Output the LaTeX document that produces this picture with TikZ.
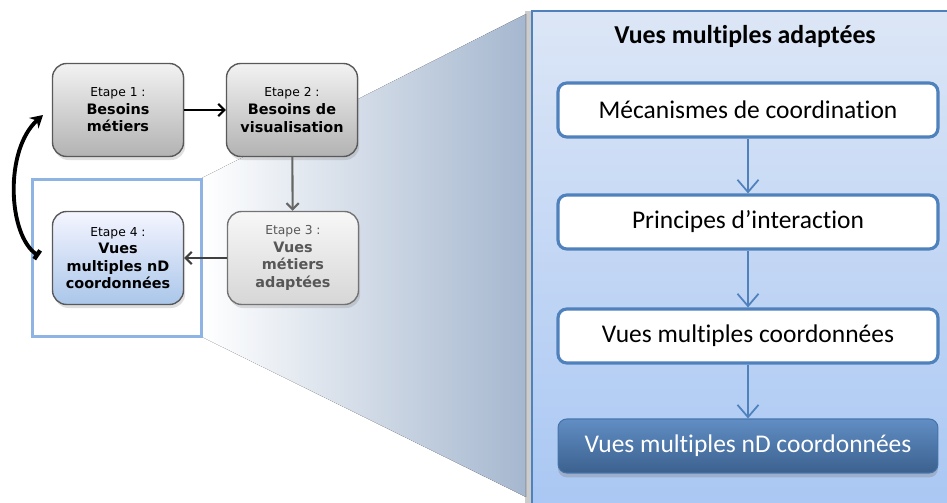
\documentclass[tikz,border=0pt]{standalone}
\usepackage{fontspec}
\setmainfont{Carlito}[Ligatures=NoCommon]
\newfontfamily\etapefont{DejaVu Sans}
\usepackage{xcolor}
\usepackage{tikz}
\usetikzlibrary{arrows.meta,positioning,shadows,calc}

\definecolor{panelblue}{HTML}{4F81BD}
\definecolor{framblue}{HTML}{8EB4E3}
\definecolor{greytext}{HTML}{575757}

\newcommand\etapenum[1]{{\mdseries\fontsize{7}{8}\selectfont Etape #1 :}}

\tikzset{
  etape/.style={draw=black!65, line width=0.8pt, rounded corners=8pt,
    minimum width=2.62cm, minimum height=1.86cm, align=center, inner sep=2pt,
    font=\etapefont\fontsize{8.2}{10}\selectfont\bfseries,
    drop shadow={opacity=0.25, shadow xshift=1pt, shadow yshift=-2pt}},
  etapegrey/.style={etape, top color=black!5, bottom color=black!30},
  etapepale/.style={etape, draw=black!55, top color=black!3, bottom color=black!16, text=greytext},
  etapeblue/.style={etape, top color=blue!4, bottom color=framblue!75},
  stepbox/.style={draw=panelblue, line width=1.8pt, rounded corners=5pt, fill=white,
    minimum width=7.6cm, minimum height=1.08cm, font=\fontsize{14.5}{17}\selectfont},
  stepdark/.style={stepbox, draw=panelblue!90!black, line width=0.6pt,
    top color=panelblue!90!white, bottom color=panelblue!75!black, text=white,
    drop shadow={opacity=0.35, shadow xshift=0pt, shadow yshift=-2.5pt}},
  flow/.style={panelblue, line width=1pt, -{Straight Barb[length=7pt,width=12pt]}},
  next/.style={line width=1.2pt, -{Straight Barb[length=3.5pt,width=7pt]}},
}

\begin{document}
\begin{tikzpicture}[x=0.02cm, y=-0.02cm]
  \useasboundingbox (0,0) rectangle (947,503);

  % zoom wedge towards the panel
  \fill[left color=white, right color={rgb,255:red,165;green,183;blue,207}]
    (202,178) -- (526,14) -- (526,497) -- (202,337) -- cycle;

  % the panel
  \node[draw=panelblue, line width=1.2pt, top color={rgb,255:red,220;green,230;blue,246},
    bottom color={rgb,255:red,169;green,199;blue,243}, minimum width=8.32cm,
    minimum height=10cm, anchor=north west,
    drop shadow={opacity=0.4, shadow xshift=-4pt, shadow yshift=0pt}]
    (panel) at (531,10) {};
  \node[font=\fontsize{14.7}{18}\selectfont\bfseries] (title) at (745,36) {Vues multiples adaptées};

  \node[stepbox] (meca) at (748,110) {Mécanismes de coordination};
  \node[stepbox] (princ) at (748,222) {Principes d’interaction};
  \node[stepbox] (coord) at (748,336) {Vues multiples coordonnées};
  \node[stepdark] (vnd) at (748,446) {Vues multiples nD coordonnées};

  \draw[flow] (meca) -- (princ);
  \draw[flow] (princ) -- (coord);
  \draw[flow] (coord) -- (vnd);

  % the four steps
  \node[etapegrey] (e1) at (118,110) {\etapenum{1}\\Besoins\\métiers};
  \node[etapegrey] (e2) at (292,110) {\etapenum{2}\\Besoins de\\visualisation};
  \node[etapepale] (e3) at (293,258) {\etapenum{3}\\Vues\\métiers\\adaptées};
  \node[etapeblue] (e4) at (118,258) {\etapenum{4}\\Vues\\multiples nD\\coordonnées};

  \node[draw=framblue, line width=1.7pt, minimum width=3.4cm, minimum height=3.14cm]
    (focus) at (117,258) {};

  \draw[next] (e1) -- (e2);
  \draw[next, black!60] (e2) -- (e3);
  \draw[next, black!75] (e3) -- (e4);

  % back to the start
  \coordinate (loopst) at (39,256);
  \coordinate (loopend) at (43,115);
  \draw[line width=2.2pt, {Square[length=2.5pt,width=6pt]}-{Stealth[length=7pt,width=8pt]}]
    (loopst) .. controls (8,235) and (4,150) .. (loopend);
\end{tikzpicture}
\end{document}
